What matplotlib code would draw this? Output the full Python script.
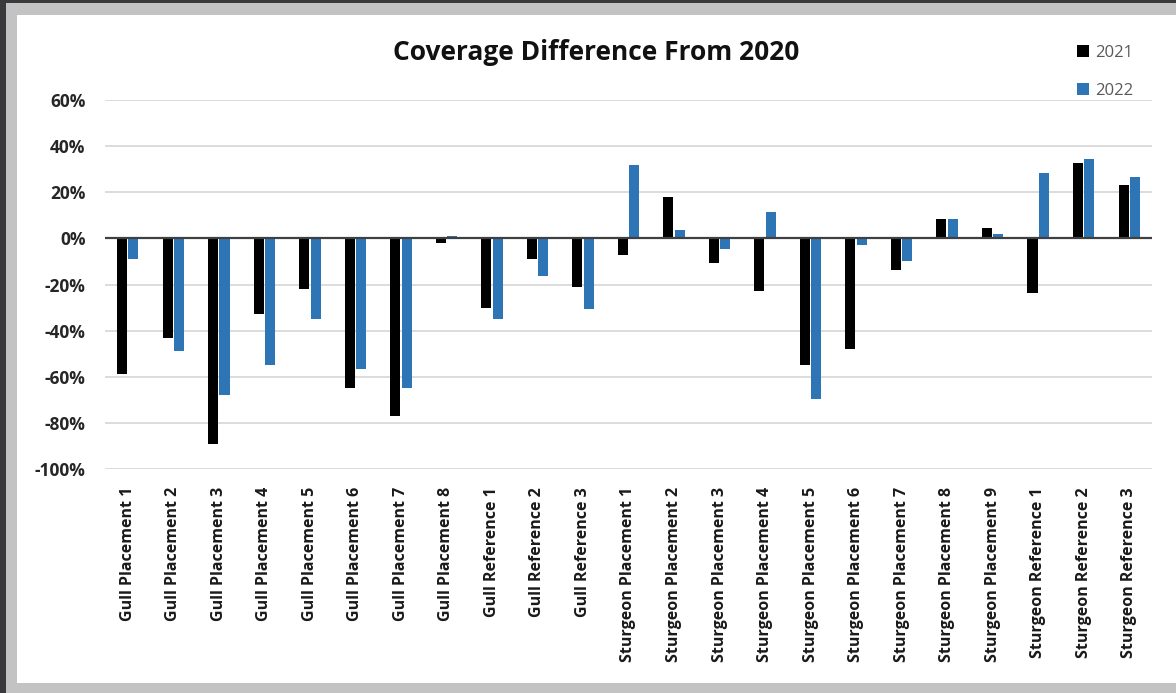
import matplotlib
matplotlib.use("Agg")
import matplotlib.pyplot as plt
from matplotlib.patches import Rectangle
from matplotlib.ticker import FuncFormatter

sites = [
    "Gull Placement 1", "Gull Placement 2", "Gull Placement 3", "Gull Placement 4",
    "Gull Placement 5", "Gull Placement 6", "Gull Placement 7", "Gull Placement 8",
    "Gull Reference 1", "Gull Reference 2", "Gull Reference 3",
    "Sturgeon Placement 1", "Sturgeon Placement 2", "Sturgeon Placement 3",
    "Sturgeon Placement 4", "Sturgeon Placement 5", "Sturgeon Placement 6",
    "Sturgeon Placement 7", "Sturgeon Placement 8", "Sturgeon Placement 9",
    "Sturgeon Reference 1", "Sturgeon Reference 2", "Sturgeon Reference 3",
]
diff_2021 = [-0.59, -0.43, -0.89, -0.33, -0.22, -0.65, -0.77, -0.02,
             -0.30, -0.09, -0.21,
             -0.07, 0.18, -0.105, -0.23, -0.55, -0.48, -0.135, 0.085, 0.043,
             -0.235, 0.327, 0.233]
diff_2022 = [-0.09, -0.49, -0.68, -0.55, -0.35, -0.565, -0.65, 0.01,
             -0.35, -0.165, -0.305,
             0.32, 0.035, -0.048, 0.115, -0.697, -0.03, -0.10, 0.085, 0.017,
             0.284, 0.346, 0.264]
years = ["2021", "2022"]
colors = ["#000000", "#2e75b6"]

W, H = 1176, 693
fig = plt.figure(figsize=(W / 100, H / 100), dpi=100)
fig.patch.set_facecolor("#3a3a3c")

# picture frame: dark edge, light grey border, white chart area
fig.patches.append(Rectangle((6 / W, 0), 1, 1 - 3 / H, transform=fig.transFigure,
                             facecolor="#c3c3c3", edgecolor="none", zorder=-3))
fig.patches.append(Rectangle((17 / W, 10 / H), 1, 1 - 25 / H, transform=fig.transFigure,
                             facecolor="white", edgecolor="none", zorder=-2))

plt.rcParams["font.family"] = ["Open Sans", "DejaVu Sans"]

ax = fig.add_axes([105 / W, 1 - 469 / H, (1152 - 105) / W, (469 - 100) / H])
ax.set_facecolor("none")

x = list(range(len(sites)))
w = 0.22
b1 = ax.bar([i - 0.125 for i in x], diff_2021, width=w, color=colors[0], label=years[0], zorder=3)
b2 = ax.bar([i + 0.125 for i in x], diff_2022, width=w, color=colors[1], label=years[1], zorder=3)

ax.set_xlim(-0.5, len(sites) - 0.5)
ax.set_ylim(-1.0, 0.6)
ax.set_yticks([-1.0, -0.8, -0.6, -0.4, -0.2, 0.0, 0.2, 0.4, 0.6])
ax.yaxis.set_major_formatter(FuncFormatter(lambda v, p: f"{v * 100:.0f}%"))
ax.grid(axis="y", color="#d9d9d9", lw=1.3, zorder=0)
ax.axhline(0, color="#404040", lw=1.6, zorder=4)
for s in ax.spines.values():
    s.set_visible(False)

ax.set_xticks(x)
ax.set_xticklabels(sites, rotation=90, fontsize=11.5, fontweight="bold", color="#1a1a1a")
ax.tick_params(axis="both", length=0)
ax.tick_params(axis="x", pad=13)
ax.tick_params(axis="y", pad=14)
for lab in ax.get_yticklabels():
    lab.set_fontsize(12.5)
    lab.set_fontweight("bold")
    lab.set_color("#262626")

fig.text(596 / W, 1 - 52 / H, "Coverage Difference From 2020", ha="center", va="center",
         fontsize=19, fontweight="bold", color="#111111")

fig.legend(handles=[b1, b2], labels=years, loc="upper left",
           bbox_to_anchor=(1062 / W, 1 - 30 / H), frameon=False,
           fontsize=12, labelcolor="#595959", handlelength=0.7, handleheight=0.7,
           handletextpad=0.4, labelspacing=1.3)

fig.savefig("out.png", dpi=100, facecolor=fig.get_facecolor())
